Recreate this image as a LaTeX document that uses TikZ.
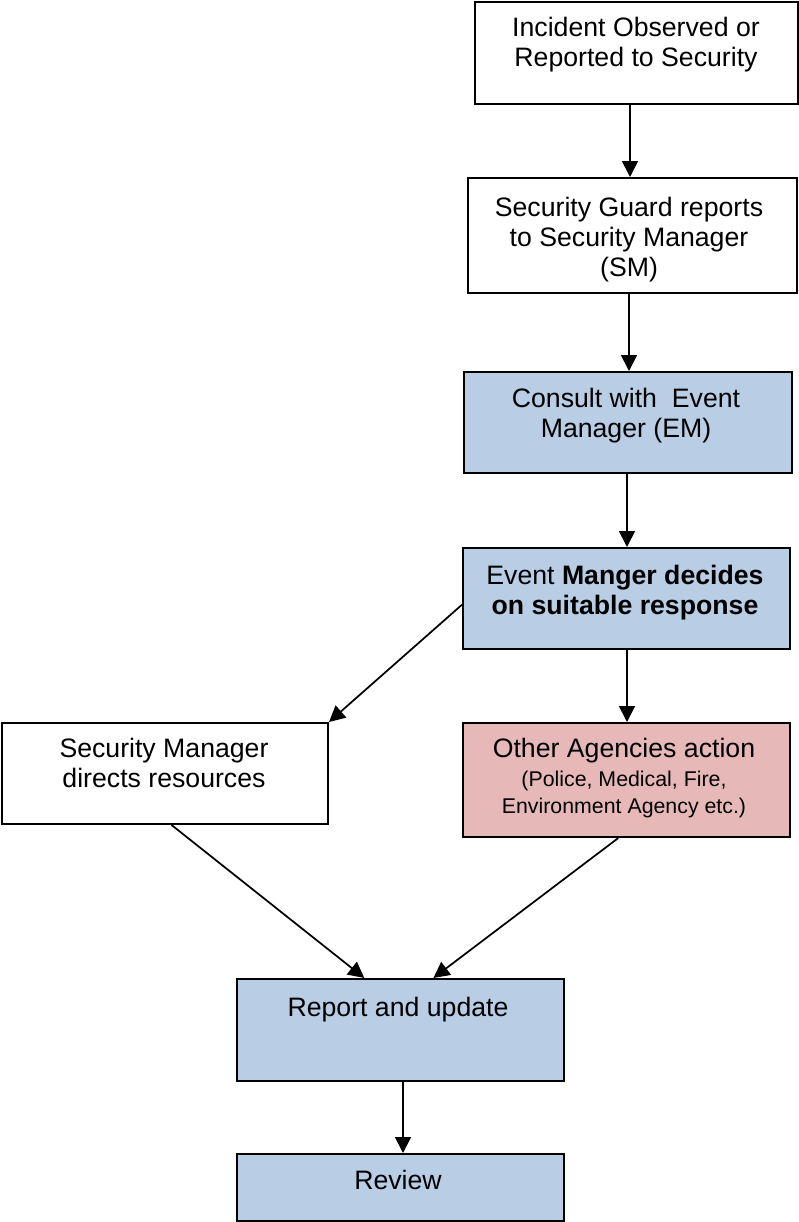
\documentclass[tikz,border=0pt]{standalone}
\usepackage{fontspec}
\setmainfont{Liberation Sans}
\usetikzlibrary{arrows.meta,calc,fit}
\definecolor{boxblue}{HTML}{B9CDE5}
\definecolor{boxpink}{HTML}{E6B9B8}
\begin{document}
\begin{tikzpicture}[x=0.75pt,y=-0.75pt,
  box/.style={draw=black, line width=1.5pt, rectangle, inner sep=0pt},
  bluebox/.style={box, fill=boxblue},
  pinkbox/.style={box, fill=boxpink},
  txt/.style={anchor=north, inner sep=0pt, align=center, font=\fontsize{20}{22.5}\selectfont},
  arr/.style={line width=1.3pt, -{Triangle[width=12pt,length=12pt]}}]
\useasboundingbox (0,0) rectangle (799,1222);

% boxes
\node[box, fit={(475,2) (798,104)}] (b1) {};
\node[box, fit={(468,178) (797,293)}] (b2) {};
\node[bluebox, fit={(464,372) (792,473)}] (b3) {};
\node[bluebox, fit={(463,548) (790,649)}] (b4) {};
\node[box, fit={(2,723) (328,824)}] (b5) {};
\node[pinkbox, fit={(463,723) (790,837)}] (b6) {};
\node[bluebox, fit={(237,979) (564,1081)}] (b7) {};
\node[bluebox, fit={(237,1154) (564,1221)}] (b8) {};

% texts
\node[txt] (t1) at (636,17) {Incident Observed or\\Reported to Security};
\node[txt] (t2) at (629,197) {Security Guard reports\\to Security Manager\\(SM)};
\node[txt] (t3) at (626,388) {Consult with\ \ Event\\Manager (EM)};
\node[txt] (t4) at (625,565) {Event \textbf{Manger decides}\\\textbf{on suitable response}};
\node[txt] (t5) at (164,738) {Security Manager\\directs resources};
\node[txt] (t6) at (624,738) {Other Agencies action\\[-1pt]{\fontsize{16}{18}\selectfont (Police, Medical, Fire,}\\[-2pt]{\fontsize{16}{18}\selectfont Environment Agency etc.)}};
\node[txt] (t7) at (398,997) {Report and update};
\node[txt] (t8) at (398,1170) {Review};

% guide coordinates for vertical connectors
\coordinate (v1) at (630,0);
\coordinate (v2) at (629,0);
\coordinate (v3) at (627,0);
\coordinate (v4) at (403,0);

\draw[arr] (b1.south -| v1) -- (b2.north -| v1);
\draw[arr] (b2.south -| v2) -- (b3.north -| v2);
\draw[arr] (b3.south -| v3) -- (b4.north -| v3);
\draw[arr] (b4.south -| v3) -- (b6.north -| v3);
\draw[arr] ($(b4.north west)!0.56!(b4.south west)$) -- (b5.north east);
\draw[arr] ($(b5.south west)!0.52!(b5.south east)$) -- ($(b7.north west)!0.39!(b7.north east)$);
\draw[arr] ($(b6.south west)!0.475!(b6.south east)$) -- ($(b7.north west)!0.60!(b7.north east)$);
\draw[arr] (b7.south -| v4) -- (b8.north -| v4);
\end{tikzpicture}
\end{document}
